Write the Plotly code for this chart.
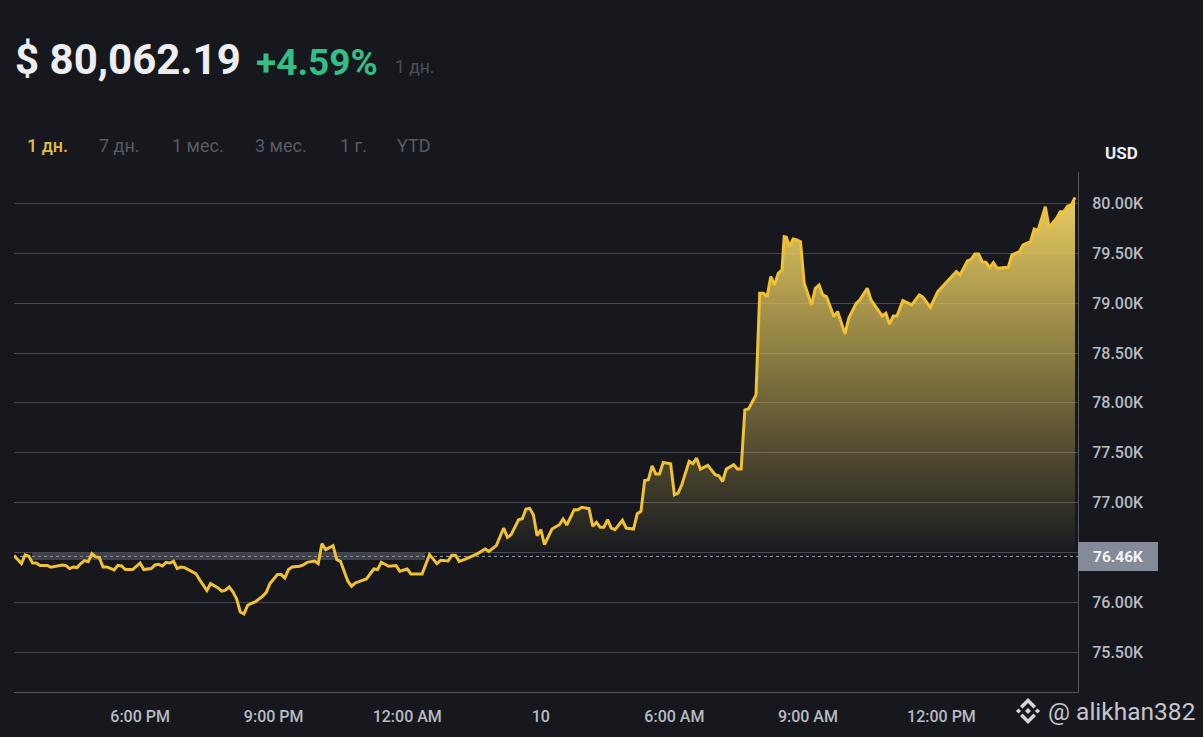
import pandas as pd
import plotly.graph_objects as go

START = "2024-11-09 15:10"
minutes = [0,10,15,20,25,30,35,45,50,55,65,70,75,80,85,90,95,100,105,110,115,120,125,135,140,145,150,160,165,170,175,180,185,190,195,200,205,210,215,220,225,230,240,245,250,260,265,275,280,285,290,295,300,305,310,315,320,325,335,340,345,355,360,365,370,375,385,390,395,405,410,415,420,430,435,440,450,455,460,470,475,485,490,495,505,515,520,
530,535,550,560,570,575,585,590,595,600,610,625,635,640,650,660,665,670,680,685,690,695,700,705,710,715,725,735,740,745,755,760,765,775,780,785,790,795,800,805,810,820,825,835,840,845,850,855,860,865,870,875,885,890,895,900,910,915,920,925,935,945,950,955,960,970,975,980,
985,990,1000,1005,1010,1015,1020,1025,1030,1035,1038,1041,1045,1050,1055,1060,1065,1075,1080,1085,1090,1095,1105,1110,1120,1125,1135,1140,1150,1155,1170,1175,1180,1185,1190,1198,1210,1220,1225,1235,1245,1250,1260,1270,1275,1285,1290,1295,1300,1305,1310,1315,1320,1325,1340,1345,1355,1360,1370,1375,1380,1390,1395,1405,1410,1415,1420,1425,1430]
prices = [76468,76388,76475,76461,76394,76394,76368,76368,76351,76358,76374,76368,76338,76354,76348,76388,76418,76408,76488,76455,76448,76354,76354,76324,76371,76364,76328,76328,76361,76394,76328,76334,76338,76374,76381,76364,76401,76394,76411,76338,76354,76348,76311,76288,76228,76117,76187,76144,76111,76121,76154,76104,76034,75903,75883,75970,75990,76003,76060,76100,76187,76278,76278,76244,76328,76354,76361,76374,76401,76414,76388,76588,76528,76568,76428,76411,76211,76161,76194,76221,76234,76334,76328,76401,76361,76368,76311,
76334,76284,76284,76478,76388,76421,76414,76471,76471,76411,76438,76488,76534,76511,76568,76745,76651,76678,76828,76838,76935,76942,76878,76668,76728,76578,76735,76778,76835,76775,76929,76929,76952,76939,76762,76802,76752,76752,76828,76745,76728,76822,76745,76735,76889,76912,77222,77229,77369,77286,77286,77403,77390,77079,77096,77179,77413,77390,77446,77336,77373,77279,77269,77212,77336,77380,77336,77336,
77930,77940,78080,79100,79100,79066,79267,79183,79300,79333,79667,79661,79567,79644,79634,79617,79200,78983,79150,79183,79083,79066,78866,78916,78692,78849,78999,79033,79150,79033,78872,78899,78789,78872,78872,79026,78983,79083,79060,78959,79116,79156,79233,79317,79283,79424,79440,79494,79494,79417,79410,79360,79407,79350,79360,79484,79517,79584,79617,79744,79728,79968,79761,79851,79918,79918,79975,79985,80062]

y_ticks = [75500,76000,76500,77000,77500,78000,78500,79000,79500,80000]
y_labels = ["75.50K","76.00K","","77.00K","77.50K","78.00K","78.50K","79.00K","79.50K","80.00K"]
x_ticks = ["2024-11-09 18:00","2024-11-09 21:00","2024-11-10 00:00","2024-11-10 03:00","2024-11-10 06:00","2024-11-10 09:00","2024-11-10 12:00"]
x_labels = ["6:00 PM","9:00 PM","12:00 AM","10","6:00 AM","9:00 AM","12:00 PM"]
BASE = 76460
tabs = ["1 дн.","7 дн.","1 мес.","3 мес.","1 г.","YTD"]

W, H = 1203, 737
BG = "#16181e"
GOLD = "#f0c035"
times = pd.Timestamp(START) + pd.to_timedelta(minutes, unit="m")
fx = lambda p: p / W
fy = lambda p: 1 - p / H

fig = go.Figure()
fig.add_trace(go.Scatter(x=times, y=[BASE] * len(times), mode="lines", line=dict(width=0), hoverinfo="skip", showlegend=False))
fig.add_trace(go.Scatter(x=times, y=[max(p, BASE) for p in prices], mode="lines", line=dict(width=0),
                         fill="tonexty", hoverinfo="skip", showlegend=False,
                         fillgradient=dict(type="vertical", start=BASE, stop=80062,
                                           colorscale=[[0, "rgba(228,200,92,0)"], [1, "rgba(232,204,98,1)"]])))
fig.add_trace(go.Scatter(x=times, y=prices, mode="lines", line=dict(color=GOLD, width=3), showlegend=False))

# reference band and dotted base line
fig.add_shape(type="rect", xref="x", yref="y", x0=pd.Timestamp(START) + pd.Timedelta(minutes=24),
              x1=pd.Timestamp(START) + pd.Timedelta(minutes=554), y0=76425, y1=76500,
              fillcolor="rgba(120,123,133,0.42)", line_width=0, layer="below")
fig.add_shape(type="line", xref="paper", yref="y", x0=fx(14), x1=fx(1078), y0=BASE, y1=BASE,
              line=dict(color="#9a9da4", width=1, dash="dot"), layer="below")

# last-price box on the axis
fig.add_shape(type="rect", xref="paper", yref="paper", x0=fx(1078), x1=fx(1158), y0=fy(571), y1=fy(542),
              fillcolor="#858a99", line_width=0)

# binance mark
def diamond(cx, cy, r):
    return f"M{fx(cx-r)},{fy(cy)} L{fx(cx)},{fy(cy-r)} L{fx(cx+r)},{fy(cy)} L{fx(cx)},{fy(cy+r)} Z"
def chevron(cx, cy, up):
    s = -1 if up else 1
    return (f"M{fx(cx-8)},{fy(cy+s*5)} L{fx(cx)},{fy(cy+s*13)} L{fx(cx+8)},{fy(cy+s*5)} "
            f"L{fx(cx+5.5)},{fy(cy+s*2.5)} L{fx(cx)},{fy(cy+s*8)} L{fx(cx-5.5)},{fy(cy+s*2.5)} Z")
for path in [diamond(1028, 711, 3), diamond(1018.5, 711, 2.6), diamond(1037.5, 711, 2.6),
             chevron(1028, 711, True), chevron(1028, 711, False)]:
    fig.add_shape(type="path", xref="paper", yref="paper", path=path, fillcolor="#d5d6d8", line_width=0)

def label(text, x, y, size, color, weight=400, family="Roboto", anchor="left", bg=None):
    fig.add_annotation(text=text, xref="paper", yref="paper", x=fx(x), y=fy(y), xanchor=anchor, yanchor="middle",
                       showarrow=False, borderpad=0, bgcolor=bg,
                       font=dict(size=size, color=color, family=family, weight=weight))

label("$ 80,062.19", 14, 60, 42, "#eceef1", 700)
label("+4.59%", 255, 62, 37, "#34bd84", 700)
label("1 дн.", 394, 67, 17.5, "#4b4f57")
for text, x, color in zip(tabs, [26, 98, 171, 254, 339, 396], ["#e3b94c"] + ["#575b64"] * 5):
    label(text, x, 145, 18, color, 500 if color == "#e3b94c" else 400)
label("USD", 1121, 152.5, 17, "#eaecef", 700, anchor="center")
label("76.46K", 1092, 557, 15.5, "#f2f3f5", 700)
label("@ alikhan382", 1047, 711, 24.5, "#c4c6ca")

fig.update_layout(
    width=W, height=H, autosize=False, margin=dict(l=0, r=0, t=0, b=0),
    paper_bgcolor=BG, plot_bgcolor=BG, showlegend=False, hovermode=False,
    xaxis=dict(domain=[fx(14), fx(1078)], range=[pd.Timestamp(START), pd.Timestamp(START) + pd.Timedelta(minutes=1434)],
               tickmode="array", tickvals=x_ticks, ticktext=x_labels, showgrid=False, zeroline=False,
               showline=True, linecolor="#55585f", linewidth=1, ticks="", ticklabelstandoff=10,
               tickfont=dict(size=16, color="#b7bbc2", family="Roboto", weight=500)),
    yaxis=dict(domain=[fy(692), fy(172)], range=[75100, 80316], side="right", anchor="x",
               tickmode="array", tickvals=y_ticks, ticktext=y_labels, gridcolor="#44474e", gridwidth=1, zeroline=False,
               showline=True, linecolor="#55585f", linewidth=1, ticks="", ticklabelstandoff=10,
               tickfont=dict(size=16, color="#b7bbc2", family="Roboto", weight=500)),
)

fig.write_html("out.html", config={"displayModeBar": False},
               post_script="document.body.style.margin='0';document.body.style.background='#16181e';document.body.style.overflow='hidden';")
